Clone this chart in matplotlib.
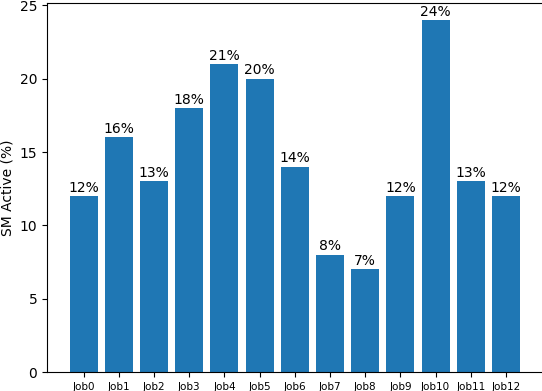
import matplotlib
matplotlib.use("Agg")
import matplotlib.pyplot as plt

jobs = ["Job0", "Job1", "Job2", "Job3", "Job4", "Job5", "Job6", "Job7", "Job8", "Job9", "Job10", "Job11", "Job12"]
sm_active = [12, 16, 13, 18, 21, 20, 14, 8, 7, 12, 24, 13, 12]

fig = plt.figure(figsize=(5.42, 3.91), dpi=100)
ax = fig.add_axes([47/542, 19/391, 495.6/542, 369.5/391])
bars = ax.bar(jobs, sm_active, color="#1f77b4")
ax.bar_label(bars, labels=[f"{v}%" for v in sm_active], padding=1, fontsize=10)
ax.set_ylabel("SM Active (%)")
ax.tick_params(axis="x", labelsize=7.5)
fig.savefig("out.png", dpi=100)
